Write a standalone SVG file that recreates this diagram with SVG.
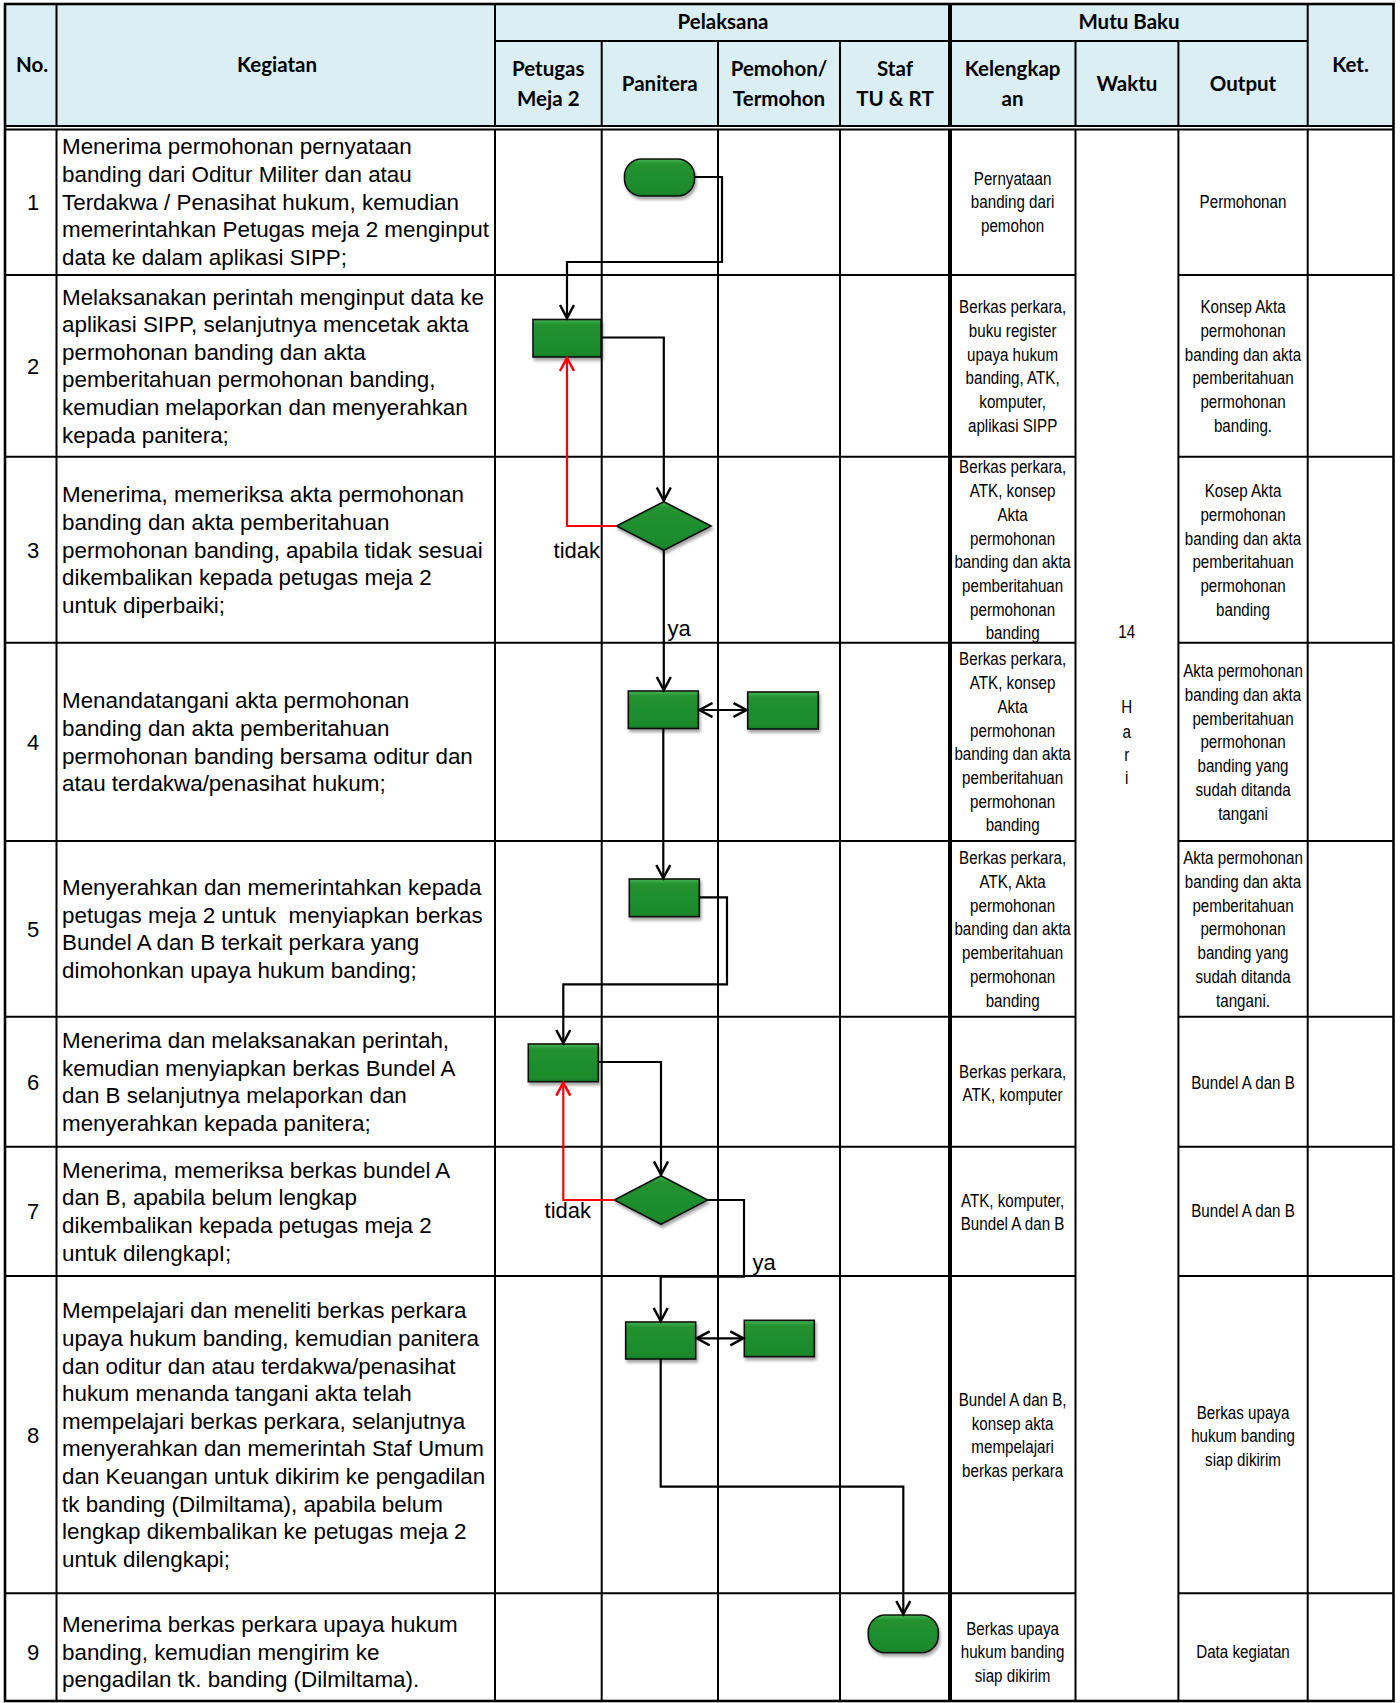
<svg xmlns="http://www.w3.org/2000/svg" width="1400" height="1703" viewBox="0 0 1400 1703">
<style>
.hd{font-family:Lato,"Liberation Sans",sans-serif;font-weight:bold;font-size:20.5px;fill:#000;text-anchor:middle}
.kg{font-family:"Liberation Sans",Arial,sans-serif;font-size:22.4px;fill:#000}
.no{font-family:"Liberation Sans",Arial,sans-serif;font-size:22px;fill:#000;text-anchor:middle}
.sm{font-family:"Liberation Sans",Arial,sans-serif;font-size:18.5px;fill:#000;text-anchor:middle}
.lb{font-family:"Liberation Sans",Arial,sans-serif;font-size:22px;fill:#000}
.g{stroke:#000;stroke-width:2;fill:none}
.gt{stroke:#000;stroke-width:4;fill:none}
.shape{fill:url(#grn);stroke:#111;stroke-width:1.6;filter:url(#sh)}
.cn{fill:none;stroke:#000;stroke-width:2.2}
.cr{fill:none;stroke:#f00;stroke-width:2.2}
</style>
<defs>
<linearGradient id="grn" x1="0" y1="0" x2="0" y2="1">
<stop offset="0" stop-color="#48b356"/>
<stop offset="0.14" stop-color="#22922f"/>
<stop offset="0.9" stop-color="#1b8a2c"/>
<stop offset="1" stop-color="#167a25"/>
</linearGradient>
<filter id="sh" x="-20%" y="-20%" width="150%" height="160%">
<feDropShadow dx="1.5" dy="3" stdDeviation="1.6" flood-color="#000" flood-opacity="0.35"/>
</filter>
<marker id="ah" markerUnits="userSpaceOnUse" markerWidth="20" markerHeight="20" refX="14" refY="8" orient="auto-start-reverse">
<path d="M1,1 L14,8 L1,15" fill="none" stroke="#000" stroke-width="2.5"/>
</marker>
<marker id="ahr" markerUnits="userSpaceOnUse" markerWidth="20" markerHeight="20" refX="14" refY="8" orient="auto">
<path d="M1,1 L14,8 L1,15" fill="none" stroke="#f00" stroke-width="2.5"/>
</marker>
</defs>
<rect x="0" y="0" width="1400" height="1703" fill="#fff"/>
<g id="table">
<rect x="5" y="4" width="1388.5" height="123" fill="#daeef3"/>
<line class="g" x1="56.5" y1="4" x2="56.5" y2="1701"/>
<line class="g" x1="495" y1="4" x2="495" y2="1701"/>
<line class="g" x1="601.7" y1="41" x2="601.7" y2="1701"/>
<line class="g" x1="718" y1="41" x2="718" y2="1701"/>
<line class="g" x1="840" y1="41" x2="840" y2="1701"/>
<line class="gt" x1="950" y1="4" x2="950" y2="1701"/>
<line class="g" x1="1075.5" y1="41" x2="1075.5" y2="1701"/>
<line class="g" x1="1178.4" y1="41" x2="1178.4" y2="1701"/>
<line class="g" x1="1307.7" y1="4" x2="1307.7" y2="1701"/>
<line class="g" x1="495" y1="41" x2="1307.7" y2="41"/>
<rect x="5" y="126.5" width="1388" height="2.5" fill="#fff"/>
<line class="g" x1="5" y1="126" x2="1393.5" y2="126"/>
<line class="g" x1="5" y1="129.5" x2="1393.5" y2="129.5"/>
<path class="g" d="M5,275 H1075.5 M1178.4,275 H1393.5 M5,456.7 H1075.5 M1178.4,456.7 H1393.5 M5,642.7 H1075.5 M1178.4,642.7 H1393.5 M5,841 H1075.5 M1178.4,841 H1393.5 M5,1016.7 H1075.5 M1178.4,1016.7 H1393.5 M5,1146.7 H1075.5 M1178.4,1146.7 H1393.5 M5,1276 H1075.5 M1178.4,1276 H1393.5 M5,1593.3 H1075.5 M1178.4,1593.3 H1393.5"/>
<rect x="5" y="4" width="1388.5" height="1697" fill="none" stroke="#000" stroke-width="2.6"/>
</g>
<g id="header">
<text class="hd" x="32" y="72">No.</text>
<text class="hd" x="277" y="72">Kegiatan</text>
<text class="hd" x="723" y="29">Pelaksana</text>
<text class="hd" x="1129" y="29">Mutu Baku</text>
<text class="hd" x="1350.5" y="72">Ket.</text>
<text class="hd"><tspan x="548.3" y="76">Petugas</tspan><tspan x="548.3" y="106">Meja 2</tspan></text>
<text class="hd" x="659.8" y="91">Panitera</text>
<text class="hd"><tspan x="779" y="76">Pemohon/</tspan><tspan x="779" y="106">Termohon</tspan></text>
<text class="hd"><tspan x="895" y="76">Staf</tspan><tspan x="895" y="106">TU &amp; RT</tspan></text>
<text class="hd"><tspan x="1012.6" y="76">Kelengkap</tspan><tspan x="1012.6" y="106">an</tspan></text>
<text class="hd" x="1127" y="91">Waktu</text>
<text class="hd" x="1243" y="91">Output</text>
</g>
<g id="numbers">
<text class="no" x="33" y="209.5">1</text>
<text class="no" x="33" y="373.6">2</text>
<text class="no" x="33" y="557.5">3</text>
<text class="no" x="33" y="749.8">4</text>
<text class="no" x="33" y="936.6">5</text>
<text class="no" x="33" y="1089.5">6</text>
<text class="no" x="33" y="1219.2">7</text>
<text class="no" x="33" y="1442.5">8</text>
<text class="no" x="33" y="1659.8">9</text>
</g>
<g id="kegiatan">
<text class="kg"><tspan x="62" y="154.3">Menerima permohonan pernyataan</tspan><tspan x="62" y="181.9">banding dari Oditur Militer dan atau</tspan><tspan x="62" y="209.5">Terdakwa / Penasihat hukum, kemudian</tspan><tspan x="62" y="237.1">memerintahkan Petugas meja 2 menginput</tspan><tspan x="62" y="264.7">data ke dalam aplikasi SIPP;</tspan></text>
<text class="kg"><tspan x="62" y="304.6">Melaksanakan perintah menginput data ke</tspan><tspan x="62" y="332.2">aplikasi SIPP, selanjutnya mencetak akta</tspan><tspan x="62" y="359.8">permohonan banding dan akta</tspan><tspan x="62" y="387.4">pemberitahuan permohonan banding,</tspan><tspan x="62" y="415">kemudian melaporkan dan menyerahkan</tspan><tspan x="62" y="442.6">kepada panitera;</tspan></text>
<text class="kg"><tspan x="62" y="502.3">Menerima, memeriksa akta permohonan</tspan><tspan x="62" y="529.9">banding dan akta pemberitahuan</tspan><tspan x="62" y="557.5">permohonan banding, apabila tidak sesuai</tspan><tspan x="62" y="585.1">dikembalikan kepada petugas meja 2</tspan><tspan x="62" y="612.7">untuk diperbaiki;</tspan></text>
<text class="kg"><tspan x="62" y="708.4">Menandatangani akta permohonan</tspan><tspan x="62" y="736">banding dan akta pemberitahuan</tspan><tspan x="62" y="763.6">permohonan banding bersama oditur dan</tspan><tspan x="62" y="791.2">atau terdakwa/penasihat hukum;</tspan></text>
<text class="kg" style="white-space:pre"><tspan x="62" y="895.2">Menyerahkan dan memerintahkan kepada</tspan><tspan x="62" y="922.8">petugas meja 2 untuk  menyiapkan berkas</tspan><tspan x="62" y="950.4">Bundel A dan B terkait perkara yang</tspan><tspan x="62" y="978">dimohonkan upaya hukum banding;</tspan></text>
<text class="kg"><tspan x="62" y="1048.1">Menerima dan melaksanakan perintah,</tspan><tspan x="62" y="1075.7">kemudian menyiapkan berkas Bundel A</tspan><tspan x="62" y="1103.3">dan B selanjutnya melaporkan dan</tspan><tspan x="62" y="1130.9">menyerahkan kepada panitera;</tspan></text>
<text class="kg"><tspan x="62" y="1177.8">Menerima, memeriksa berkas bundel A</tspan><tspan x="62" y="1205.4">dan B, apabila belum lengkap</tspan><tspan x="62" y="1233">dikembalikan kepada petugas meja 2</tspan><tspan x="62" y="1260.6">untuk dilengkapI;</tspan></text>
<text class="kg"><tspan x="62" y="1318.3">Mempelajari dan meneliti berkas perkara</tspan><tspan x="62" y="1345.9">upaya hukum banding, kemudian panitera</tspan><tspan x="62" y="1373.5">dan oditur dan atau terdakwa/penasihat</tspan><tspan x="62" y="1401.1">hukum menanda tangani akta telah</tspan><tspan x="62" y="1428.7">mempelajari berkas perkara, selanjutnya</tspan><tspan x="62" y="1456.3">menyerahkan dan memerintah Staf Umum</tspan><tspan x="62" y="1483.9">dan Keuangan untuk dikirim ke pengadilan</tspan><tspan x="62" y="1511.5">tk banding (Dilmiltama), apabila belum</tspan><tspan x="62" y="1539.1">lengkap dikembalikan ke petugas meja 2</tspan><tspan x="62" y="1566.7">untuk dilengkapi;</tspan></text>
<text class="kg"><tspan x="62" y="1632.2">Menerima berkas perkara upaya hukum</tspan><tspan x="62" y="1659.8">banding, kemudian mengirim ke</tspan><tspan x="62" y="1687.4">pengadilan tk. banding (Dilmiltama).</tspan></text>
</g>
<g id="kelengkapan" transform="translate(1012.6 0) scale(0.82 1)">
<text class="sm"><tspan x="0" y="184.8">Pernyataan</tspan><tspan x="0" y="208.5">banding dari</tspan><tspan x="0" y="232.2">pemohon</tspan></text>
<text class="sm"><tspan x="0" y="313.3">Berkas perkara,</tspan><tspan x="0" y="337">buku register</tspan><tspan x="0" y="360.7">upaya hukum</tspan><tspan x="0" y="384.4">banding, ATK,</tspan><tspan x="0" y="408.1">komputer,</tspan><tspan x="0" y="431.8">aplikasi SIPP</tspan></text>
<text class="sm"><tspan x="0" y="473.5">Berkas perkara,</tspan><tspan x="0" y="497.2">ATK, konsep</tspan><tspan x="0" y="520.9">Akta</tspan><tspan x="0" y="544.6">permohonan</tspan><tspan x="0" y="568.3">banding dan akta</tspan><tspan x="0" y="592">pemberitahuan</tspan><tspan x="0" y="615.7">permohonan</tspan><tspan x="0" y="639.4">banding</tspan></text>
<text class="sm"><tspan x="0" y="665.5">Berkas perkara,</tspan><tspan x="0" y="689.2">ATK, konsep</tspan><tspan x="0" y="712.9">Akta</tspan><tspan x="0" y="736.6">permohonan</tspan><tspan x="0" y="760.3">banding dan akta</tspan><tspan x="0" y="784">pemberitahuan</tspan><tspan x="0" y="807.7">permohonan</tspan><tspan x="0" y="831.4">banding</tspan></text>
<text class="sm"><tspan x="0" y="864.4">Berkas perkara,</tspan><tspan x="0" y="888.1">ATK, Akta</tspan><tspan x="0" y="911.8">permohonan</tspan><tspan x="0" y="935.5">banding dan akta</tspan><tspan x="0" y="959.2">pemberitahuan</tspan><tspan x="0" y="982.9">permohonan</tspan><tspan x="0" y="1006.6">banding</tspan></text>
<text class="sm"><tspan x="0" y="1077.6">Berkas perkara,</tspan><tspan x="0" y="1101.3">ATK, komputer</tspan></text>
<text class="sm"><tspan x="0" y="1206.6">ATK, komputer,</tspan><tspan x="0" y="1230.3">Bundel A dan B</tspan></text>
<text class="sm"><tspan x="0" y="1405.9">Bundel A dan B,</tspan><tspan x="0" y="1429.6">konsep akta</tspan><tspan x="0" y="1453.3">mempelajari</tspan><tspan x="0" y="1477">berkas perkara</tspan></text>
<text class="sm"><tspan x="0" y="1634.8">Berkas upaya</tspan><tspan x="0" y="1658.5">hukum banding</tspan><tspan x="0" y="1682.2">siap dikirim</tspan></text>
</g>
<g id="waktu" transform="translate(1126.7 0) scale(0.82 1)">
<text class="sm" x="0" y="638.2">14</text>
<text class="sm"><tspan x="0" y="713.2">H</tspan><tspan x="0" y="738.2">a</tspan><tspan x="0" y="761.5">r</tspan><tspan x="0" y="784.5">i</tspan></text>
</g>
<g id="output" transform="translate(1243 0) scale(0.82 1)">
<text class="sm" x="0" y="208.2">Permohonan</text>
<text class="sm"><tspan x="0" y="313.3">Konsep Akta</tspan><tspan x="0" y="337">permohonan</tspan><tspan x="0" y="360.7">banding dan akta</tspan><tspan x="0" y="384.4">pemberitahuan</tspan><tspan x="0" y="408.1">permohonan</tspan><tspan x="0" y="431.8">banding.</tspan></text>
<text class="sm"><tspan x="0" y="497.2">Kosep Akta</tspan><tspan x="0" y="520.9">permohonan</tspan><tspan x="0" y="544.6">banding dan akta</tspan><tspan x="0" y="568.3">pemberitahuan</tspan><tspan x="0" y="592">permohonan</tspan><tspan x="0" y="615.7">banding</tspan></text>
<text class="sm"><tspan x="0" y="677.4">Akta permohonan</tspan><tspan x="0" y="701.1">banding dan akta</tspan><tspan x="0" y="724.8">pemberitahuan</tspan><tspan x="0" y="748.5">permohonan</tspan><tspan x="0" y="772.2">banding yang</tspan><tspan x="0" y="795.9">sudah ditanda</tspan><tspan x="0" y="819.6">tangani</tspan></text>
<text class="sm"><tspan x="0" y="864.4">Akta permohonan</tspan><tspan x="0" y="888.1">banding dan akta</tspan><tspan x="0" y="911.8">pemberitahuan</tspan><tspan x="0" y="935.5">permohonan</tspan><tspan x="0" y="959.2">banding yang</tspan><tspan x="0" y="982.9">sudah ditanda</tspan><tspan x="0" y="1006.6">tangani.</tspan></text>
<text class="sm" x="0" y="1089.5">Bundel A dan B</text>
<text class="sm" x="0" y="1217.5">Bundel A dan B</text>
<text class="sm"><tspan x="0" y="1418.8">Berkas upaya</tspan><tspan x="0" y="1442.5">hukum banding</tspan><tspan x="0" y="1466.2">siap dikirim</tspan></text>
<text class="sm" x="0" y="1658.5">Data kegiatan</text>
</g>
<g id="nodes">
<g id="n1-start"><rect class="shape" x="624.5" y="159" width="70" height="37" rx="17"/></g>
<g id="n2-input"><rect class="shape" x="533" y="319.5" width="68" height="37.5"/></g>
<g id="n3-check"><polygon class="shape" points="663.8,501.7 711.1,526 663.8,550.3 616.5,526"/></g>
<g id="n4-sign"><rect class="shape" x="628.3" y="691" width="70" height="37.5"/></g>
<g id="n4-pemohon"><rect class="shape" x="747.7" y="692" width="70.6" height="37"/></g>
<g id="n5-deliver"><rect class="shape" x="629.3" y="879" width="70" height="37.7"/></g>
<g id="n6-bundel"><rect class="shape" x="528.3" y="1044" width="70" height="37.7"/></g>
<g id="n7-check"><polygon class="shape" points="661,1175.7 707.7,1200 661,1224.3 614.3,1200"/></g>
<g id="n8-study"><rect class="shape" x="625.7" y="1322" width="70" height="37"/></g>
<g id="n8-pemohon"><rect class="shape" x="744.3" y="1320.3" width="70" height="36.4"/></g>
<g id="n9-end"><rect class="shape" x="868.3" y="1615" width="70" height="37.7" rx="17"/></g>
</g>
<g id="connectors">
<path class="cn" d="M694.5,177 H722 V262 H567 V318" marker-end="url(#ah)"/>
<path class="cn" d="M601,337.5 H663.8 V500.5" marker-end="url(#ah)"/>
<path class="cr" d="M616.5,526 H567 V358" marker-end="url(#ahr)"/>
<path class="cn" d="M663.8,550.3 V690" marker-end="url(#ah)"/>
<path class="cn" d="M699.5,710 H746.5" marker-start="url(#ah)" marker-end="url(#ah)"/>
<path class="cn" d="M663.3,728.5 V878" marker-end="url(#ah)"/>
<path class="cn" d="M699.3,897.3 H727 V984.3 H563.3 V1043" marker-end="url(#ah)"/>
<path class="cn" d="M598.3,1062 H661 V1174.5" marker-end="url(#ah)"/>
<path class="cr" d="M614.3,1200 H563.3 V1082.7" marker-end="url(#ahr)"/>
<path class="cn" d="M707.7,1200 H744 V1276.7 H660.7 V1321" marker-end="url(#ah)"/>
<path class="cn" d="M696.7,1338.3 H743.3" marker-start="url(#ah)" marker-end="url(#ah)"/>
<path class="cn" d="M660.7,1359 V1486.7 H903.3 V1614" marker-end="url(#ah)"/>
<text class="lb" x="600" y="558" text-anchor="end">tidak</text>
<text class="lb" x="667.5" y="636">ya</text>
<text class="lb" x="591" y="1218" text-anchor="end">tidak</text>
<text class="lb" x="752.5" y="1270">ya</text>
</g>
</svg>
